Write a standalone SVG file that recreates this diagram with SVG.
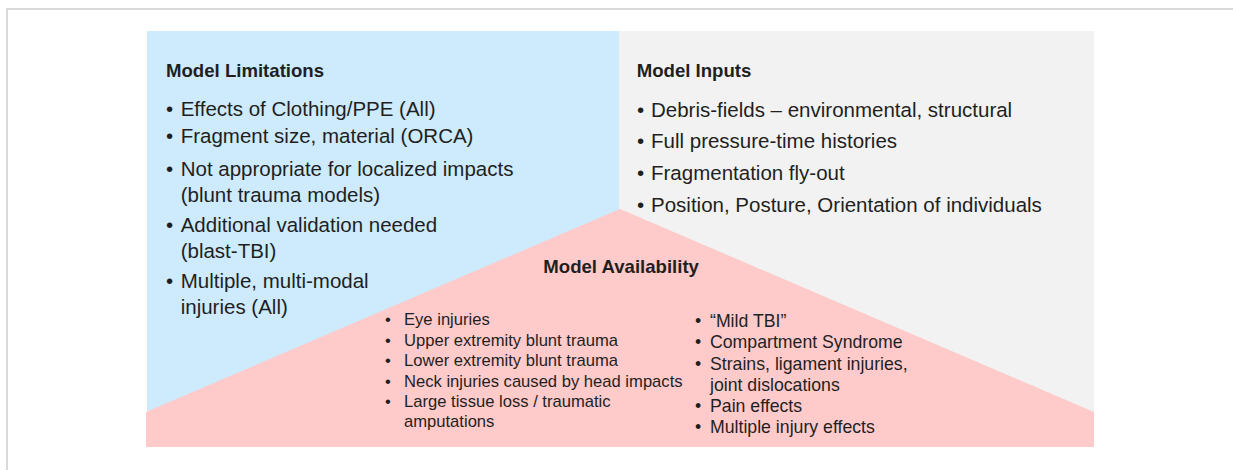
<svg xmlns="http://www.w3.org/2000/svg" width="1233" height="470" viewBox="0 0 1233 470">
<style>
text{font-family:"Liberation Sans",Arial,sans-serif;fill:#1f1f1f}
.h{font-weight:bold;font-size:18.6px}
.b{font-size:20.5px}
.s{font-size:16.6px}
.r{font-size:17.7px}
</style>
<rect x="0" y="0" width="1233" height="470" fill="#ffffff"/>
<path d="M7 470 V9 H1233" fill="none" stroke="#d9d9d9" stroke-width="2"/>
<g id="limitations">
<rect x="147" y="31" width="473" height="382" fill="#cdebfc"/>
<text class="h" x="166" y="77.3">Model Limitations</text>
<text class="b"><tspan x="166" y="115.7">•</tspan><tspan x="180.7" y="115.7">Effects of Clothing/PPE (All)</tspan><tspan x="166" y="143.3">•</tspan><tspan x="180.7" y="143.3">Fragment size, material (ORCA)</tspan><tspan x="166" y="175.7">•</tspan><tspan x="180.7" y="175.7">Not appropriate for localized impacts</tspan><tspan x="180.7" y="201.7">(blunt trauma models)</tspan><tspan x="166" y="231.7">•</tspan><tspan x="180.7" y="231.7">Additional validation needed</tspan><tspan x="180.7" y="258.3">(blast-TBI)</tspan><tspan x="166" y="288.3">•</tspan><tspan x="180.7" y="288.3">Multiple, multi-modal</tspan><tspan x="180.7" y="314.3">injuries (All)</tspan></text>
</g>
<g id="inputs">
<rect x="619" y="31" width="475" height="382" fill="#f2f2f2"/>
<text class="h" x="636.7" y="77.3">Model Inputs</text>
<text class="b"><tspan x="637" y="116.7">•</tspan><tspan x="651" y="116.7">Debris-fields – environmental, structural</tspan><tspan x="637" y="148.3">•</tspan><tspan x="651" y="148.3">Full pressure-time histories</tspan><tspan x="637" y="180">•</tspan><tspan x="651" y="180">Fragmentation fly-out</tspan><tspan x="637" y="211.7">•</tspan><tspan x="651" y="211.7">Position, Posture, Orientation of individuals</tspan></text>
</g>
<g id="availability">
<path d="M146 412 L620 209 L1094 412 V447 H146 Z" fill="#ffcaca"/>
<text class="h" x="543.3" y="272.7">Model Availability</text>
<text class="s"><tspan x="385" y="325">•</tspan><tspan x="404" y="325">Eye injuries</tspan><tspan x="385" y="345.7">•</tspan><tspan x="404" y="345.7">Upper extremity blunt trauma</tspan><tspan x="385" y="366">•</tspan><tspan x="404" y="366">Lower extremity blunt trauma</tspan><tspan x="385" y="386.7">•</tspan><tspan x="404" y="386.7">Neck injuries caused by head impacts</tspan><tspan x="385" y="406.7">•</tspan><tspan x="404" y="406.7">Large tissue loss / traumatic</tspan><tspan x="404" y="427.3">amputations</tspan></text>
<text class="r"><tspan x="695" y="326.7">•</tspan><tspan x="710" y="326.7">“Mild TBI”</tspan><tspan x="695" y="347.7">•</tspan><tspan x="710" y="347.7">Compartment Syndrome</tspan><tspan x="695" y="370">•</tspan><tspan x="710" y="370">Strains, ligament injuries,</tspan><tspan x="710" y="390.7">joint dislocations</tspan><tspan x="695" y="412.3">•</tspan><tspan x="710" y="412.3">Pain effects</tspan><tspan x="695" y="433.3">•</tspan><tspan x="710" y="433.3">Multiple injury effects</tspan></text>
</g>
</svg>
